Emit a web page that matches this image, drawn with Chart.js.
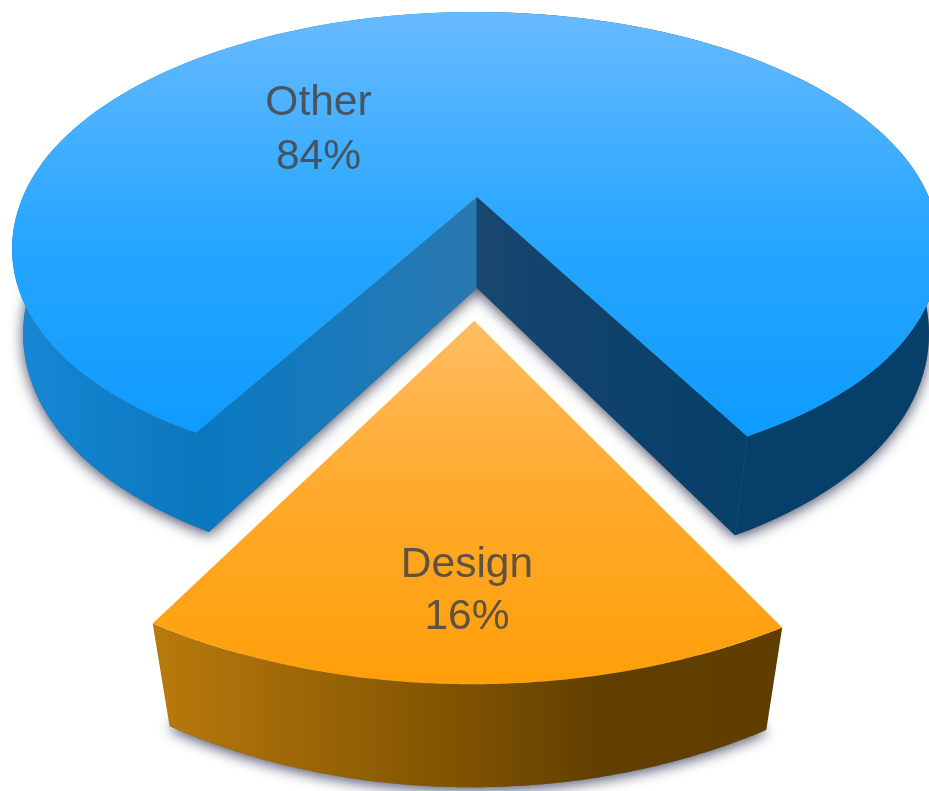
<!DOCTYPE html>
<html>
<head>
<meta charset="utf-8">
<title>Share of work</title>
<style>
    html, body { margin: 0; padding: 0; background: #fff; }
    #wrap { width: 929px; height: 791px; overflow: hidden; }
</style>
<script src="https://cdn.jsdelivr.net/npm/chart.js@4/dist/chart.umd.js"></script>
</head>
<body>
<div id="wrap"><canvas id="chart" width="929" height="791"></canvas></div>
<script>
const categories = ["Design", "Other"];
const shares = [16, 84];
const sliceOffsets = [158, 0];

// camera for the tilted disc: z = 0 is the top face, z = 1 the underside
const camera = { cx: 477, cy: 197, r: 453, flare: 22, base: 10, s: 222.7, swell: 50, t: 5, q: 3, k: 0.204, m: 0.0395, h: 94.6 };

const project = (u, v, z) => {
    const w = 1 - camera.k * v + camera.m * z;
    // the near side of the disc opens up a little more than plain perspective
    const near = Math.min(Math.max(v, 0), 0.88);
    const r = camera.r + camera.flare * near * near + camera.base * z * (1 - near / 0.88);
    const front = Math.max(v - 1, 0) ** 3;
    return {
        x: camera.cx + (r * u - camera.t * v) / w,
        y: camera.cy + (camera.s * v + camera.q * u + camera.h * z) / w + camera.swell * front
    };
};

const sliceStyles = {
    Design: {
        top: [[321, "#ffbd62"], [500, "#ffa92a"], [680, "#ffa00a"]],
        wall: [[153, "#b97a0c"], [470, "#7d5100"], [600, "#613f00"], [781, "#5f3e00"]]
    },
    Other: {
        top: [[12, "#68baff"], [240, "#26a6ff"], [435, "#0e9bff"]],
        wall: [[14, "#1688d6"], [209, "#0a76bd"], [210, "#0979c3"], [476, "#2a79b0"],
               [477, "#18466e"], [746, "#053f6a"], [929, "#053f6a"]]
    }
};

const gradient = (ctx, stops, horizontal) => {
    const first = stops[0][0];
    const last = stops[stops.length - 1][0];
    const g = horizontal
        ? ctx.createLinearGradient(first, 0, last, 0)
        : ctx.createLinearGradient(0, first, 0, last);
    stops.forEach(([pos, color]) => g.addColorStop((pos - first) / (last - first), color));
    return g;
};

const tracePath = (ctx, points) => {
    ctx.beginPath();
    points.forEach((p, i) => (i ? ctx.lineTo(p.x, p.y) : ctx.moveTo(p.x, p.y)));
    ctx.closePath();
};

const drawSlice = (ctx, arc, name) => {
    const { startAngle, endAngle, outerRadius } = arc.getProps(["startAngle", "endAngle", "outerRadius"]);
    const mid = (startAngle + endAngle) / 2;
    const shift = arc.options.offset / outerRadius;
    const ox = Math.cos(mid) * shift;
    const oy = Math.sin(mid) * shift;
    const style = sliceStyles[name];

    const rim = (z) => {
        const pts = [];
        for (let i = 0; i <= 160; i++) {
            const a = startAngle + (endAngle - startAngle) * i / 160;
            pts.push(project(ox + Math.cos(a), oy + Math.sin(a), z));
        }
        return pts;
    };
    const topRim = rim(0);
    const bottomRim = rim(1);
    const topApex = project(ox, oy, 0);
    const bottomApex = project(ox, oy, 1);

    // soft shadow comes from the underside
    ctx.save();
    ctx.shadowColor = "rgba(45, 50, 80, 0.85)";
    ctx.shadowBlur = 14;
    ctx.shadowOffsetY = 3;
    ctx.fillStyle = "#666";
    tracePath(ctx, [bottomApex, ...bottomRim]);
    ctx.fill();
    ctx.restore();

    // outer wall plus the two cut faces, shaded left to right
    ctx.fillStyle = gradient(ctx, style.wall, true);
    tracePath(ctx, [...topRim, ...bottomRim.slice().reverse()]);
    ctx.fill();
    if (shift === 0) {
        tracePath(ctx, [topApex, topRim[0], bottomRim[0], bottomApex]);
        ctx.fill();
        tracePath(ctx, [topApex, topRim[160], bottomRim[160], bottomApex]);
        ctx.fill();
    }

    ctx.fillStyle = gradient(ctx, style.top, false);
    tracePath(ctx, [topApex, ...topRim]);
    ctx.fill();
};

const extrudedPie = {
    id: "extrudedPie",
    beforeDatasetsDraw(chart, args, opts) {
        const { ctx } = chart;
        const arcs = chart.getDatasetMeta(0).data;
        const order = categories.map((_, i) => i).sort((a, b) => sliceOffsets[a] - sliceOffsets[b]);

        ctx.save();
        order.forEach((i) => drawSlice(ctx, arcs[i], categories[i]));

        ctx.fillStyle = opts.color;
        ctx.font = opts.font;
        ctx.textAlign = "center";
        ctx.textBaseline = "alphabetic";
        categories.forEach((name, i) => {
            const spot = opts.spots[name];
            ctx.fillText(name, spot.x, spot.y);
            ctx.fillText(shares[i] + "%", spot.x, spot.y + spot.gap);
        });
        ctx.restore();
        return false; // flat arcs are replaced by the extruded ones
    }
};

new Chart(document.getElementById("chart"), {
    type: "pie",
    data: {
        labels: categories,
        datasets: [{
            data: shares,
            offset: sliceOffsets,
            borderWidth: 0
        }]
    },
    options: {
        responsive: false,
        animation: false,
        rotation: 151.2,
        events: [],
        plugins: {
            legend: { display: false },
            tooltip: { enabled: false },
            extrudedPie: {
                color: "rgba(72, 72, 72, 0.88)",
                font: '42.5px "Liberation Sans", Arial, sans-serif',
                spots: {
                    Other: { x: 318.5, y: 115, gap: 54 },
                    Design: { x: 467, y: 577, gap: 52 }
                }
            }
        }
    },
    plugins: [extrudedPie]
});
</script>
</body>
</html>
